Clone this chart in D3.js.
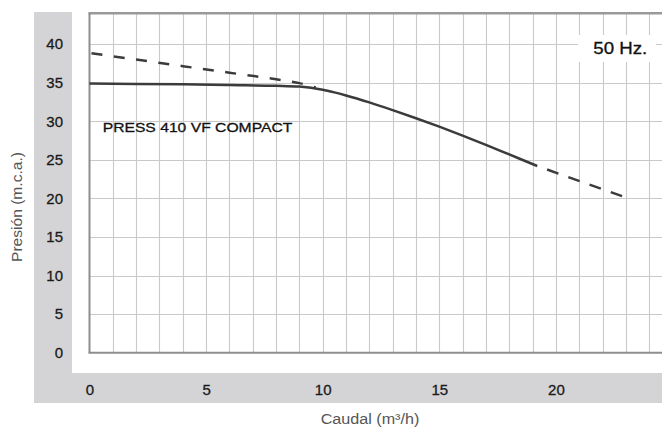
<!DOCTYPE html>
<html>
<head>
<meta charset="utf-8">
<script src="https://cdn.jsdelivr.net/npm/d3@7"></script>
<style>
  html, body { margin: 0; padding: 0; background: #ffffff; }
  svg { display: block; }
  text { font-family: "Liberation Sans", Arial, Helvetica, sans-serif; }
</style>
</head>
<body>
<svg id="chart" width="662" height="428"></svg>
<script>
// ---- Data ----
const xTicks = [0, 5, 10, 15, 20];
const yTicks = [0, 5, 10, 15, 20, 25, 30, 35, 40];
const xGrid = [1,2,3,4,5,6,7,8,9,10,11,12,13,14,15,16,17,18,19,20,21,22,23,24];
const yGrid = [5, 10, 15, 20, 25, 30, 35, 40];

// Solid (working) curve: caudal (m3/h) vs presión (m.c.a.)
const curveQ = [0, 2, 4, 6, 8, 9, 10, 10.5, 11, 12, 13, 14, 15, 16, 17, 18, 19.2];
const curveH = [34.9, 34.85, 34.8, 34.7, 34.6, 34.5, 34.1, 33.75, 33.35, 32.45, 31.45, 30.4, 29.3, 28.15, 26.95, 25.7, 24.2];

// Dashed head (max pressure line)
const headQ = [0, 2, 4, 6, 8, 9, 9.7];
const headH = [38.85, 38.0, 37.15, 36.3, 35.45, 34.95, 34.4];

// Dashed tail (extension)
const tailQ = [19.2, 22.9];
const tailH = [24.2, 20.23];

const modelLabel = "PRESS 410 VF COMPACT";
const freqLabel = "50 Hz.";
const xTitle = "Caudal (m³/h)";
const yTitle = "Presión (m.c.a.)";

// ---- Layout ----
const svg = d3.select("#chart");
const pLeft = 89.5, pRight = 662, pTop = 13.3, pBottom = 352.7;
const x = d3.scaleLinear().domain([0, 24.55]).range([pLeft, pRight]);
const y = d3.scaleLinear().domain([0, 44]).range([pBottom, pTop]);

// Gray bands
const band = "#d4d4d6";
svg.append("rect").attr("x", 34).attr("y", 12).attr("width", 38).attr("height", 391).attr("fill", band);
svg.append("rect").attr("x", 34).attr("y", 373).attr("width", 628).attr("height", 30).attr("fill", band);
// white plot bg
svg.append("rect").attr("x", pLeft).attr("y", pTop).attr("width", pRight - pLeft).attr("height", pBottom - pTop).attr("fill", "#fff");

// Grid
const grid = svg.append("g");
grid.selectAll("line.v").data(xGrid).join("line")
  .attr("x1", d => Math.round(x(d)) + 0.5).attr("x2", d => Math.round(x(d)) + 0.5)
  .attr("y1", pTop).attr("y2", pBottom)
  .attr("stroke", "#c9c9c9").attr("stroke-width", 1.1);
grid.selectAll("line.h").data(yGrid).join("line")
  .attr("x1", pLeft).attr("x2", pRight)
  .attr("y1", d => Math.round(y(d)) + 0.5).attr("y2", d => Math.round(y(d)) + 0.5)
  .attr("stroke", "#c9c9c9").attr("stroke-width", 1.1);

// Borders
svg.append("line").attr("x1", pLeft - 1).attr("x2", pRight).attr("y1", pTop).attr("y2", pTop)
  .attr("stroke", "#9a9a9a").attr("stroke-width", 2.5);
svg.append("line").attr("x1", pLeft).attr("x2", pLeft).attr("y1", pTop).attr("y2", pBottom)
  .attr("stroke", "#8e8e8e").attr("stroke-width", 2);
svg.append("line").attr("x1", pLeft - 1).attr("x2", pRight).attr("y1", pBottom).attr("y2", pBottom)
  .attr("stroke", "#8e8e8e").attr("stroke-width", 2);

// 50 Hz box
svg.append("rect").attr("x", 578).attr("y", 35).attr("width", 78).attr("height", 27).attr("fill", "#fff");
svg.append("text").attr("x", 593.3).attr("y", 54).attr("font-size", 17).attr("fill", "#111")
  .attr("stroke", "#111").attr("stroke-width", 0.3)
  .attr("textLength", 54).attr("lengthAdjust", "spacingAndGlyphs").text(freqLabel);

// Curves
const lineColor = "#3b3b3b";
const line = d3.line().x(d => x(d[0])).y(d => y(d[1])).curve(d3.curveMonotoneX);
svg.append("path").datum(headQ.map((q, i) => [q, headH[i]]))
  .attr("d", line).attr("fill", "none").attr("stroke", lineColor).attr("stroke-width", 2.5)
  .attr("stroke-dasharray", "11,11.5").attr("stroke-dashoffset", -2);
svg.append("path").datum(tailQ.map((q, i) => [q, tailH[i]]))
  .attr("d", line).attr("fill", "none").attr("stroke", lineColor).attr("stroke-width", 2.5)
  .attr("stroke-dasharray", "12,10.5").attr("stroke-dashoffset", 12);
svg.append("path").datum(curveQ.map((q, i) => [q, curveH[i]]))
  .attr("d", line).attr("fill", "none").attr("stroke", lineColor).attr("stroke-width", 2.5)
  .attr("stroke-linecap", "butt");

// Model label
svg.append("text").attr("x", 102.7).attr("y", 132).attr("font-size", 13.5).attr("fill", "#111")
  .attr("stroke", "#111").attr("stroke-width", 0.3)
  .attr("textLength", 189.6).attr("lengthAdjust", "spacingAndGlyphs").text(modelLabel);

// Axes (labels only)
const yAxis = svg.append("g").attr("transform", "translate(63,0)")
  .call(d3.axisLeft(y).tickValues(yTicks).tickSize(0).tickPadding(0));
const xAxis = svg.append("g").attr("transform", "translate(0,384)")
  .call(d3.axisBottom(x).tickValues(xTicks).tickSize(0).tickPadding(0));
[yAxis, xAxis].forEach(g => {
  g.select(".domain").remove();
  g.selectAll("text").attr("font-size", 15).attr("fill", "#1a1a1a")
    .attr("stroke", "#1a1a1a").attr("stroke-width", 0.3)
    .attr("font-family", "'Liberation Sans', Arial, sans-serif");
});

// Axis titles
svg.append("text").attr("x", 370).attr("y", 424.3).attr("text-anchor", "middle")
  .attr("font-size", 14).attr("fill", "#555").attr("textLength", 98.6)
  .attr("lengthAdjust", "spacingAndGlyphs").text(xTitle);
svg.append("text").attr("transform", "translate(22,207) rotate(-90)").attr("text-anchor", "middle")
  .attr("font-size", 14).attr("fill", "#555").attr("textLength", 110)
  .attr("lengthAdjust", "spacingAndGlyphs").text(yTitle);
</script>
</body>
</html>
